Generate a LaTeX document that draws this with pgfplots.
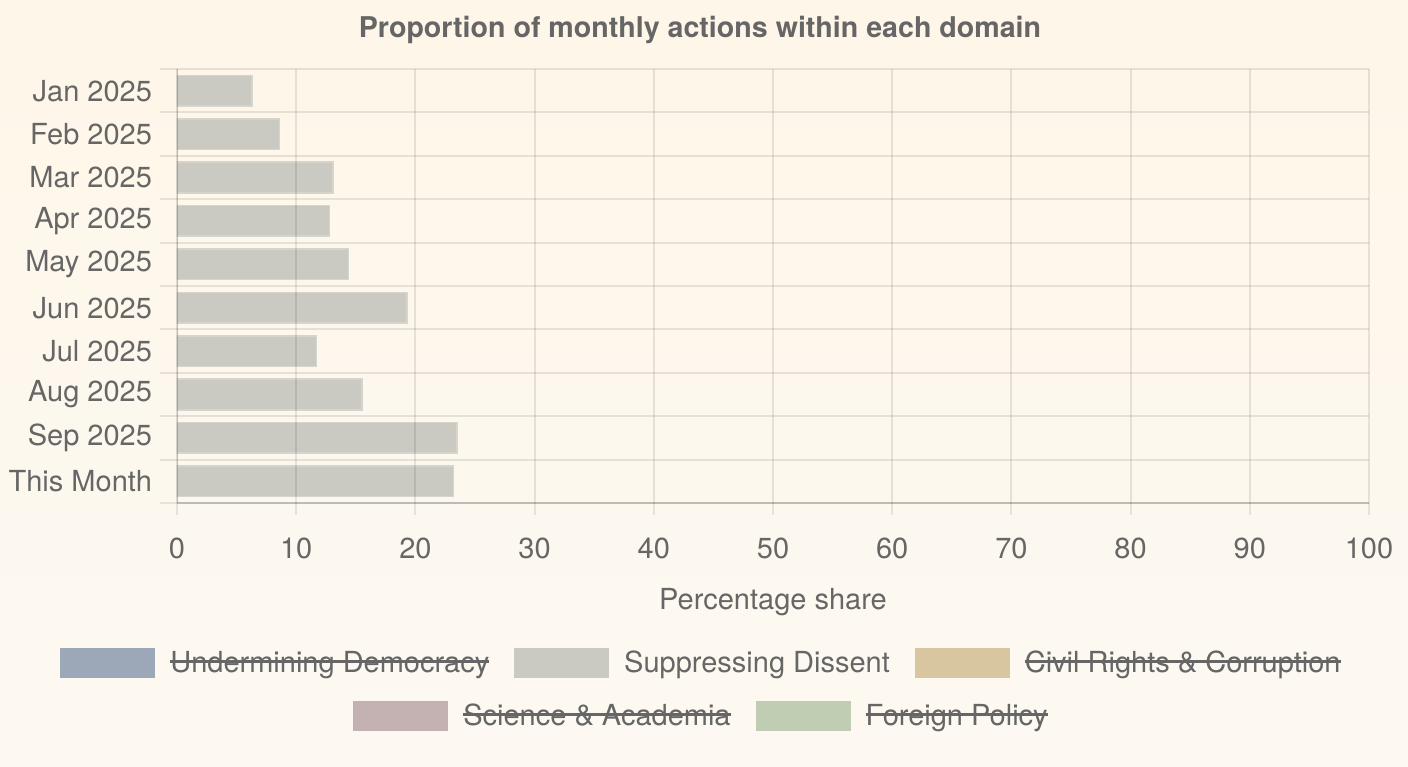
\documentclass[border=0pt]{standalone}
\usepackage{fontspec}
\setmainfont{TeX Gyre Heros}
\usepackage{pgfplots}
\usepackage{pgfplotstable}
\pgfplotsset{compat=1.18}

\definecolor{txt}{HTML}{666666}
\definecolor{bgtop}{HTML}{FEF6E8}
\definecolor{bgbot}{HTML}{FDF9F2}
\definecolor{cdem}{HTML}{9CA8B8}
\definecolor{cdis}{HTML}{CACAC2}
\definecolor{cciv}{HTML}{D8C6A0}
\definecolor{csci}{HTML}{C4B2B2}
\definecolor{cfor}{HTML}{C0CDB2}

\newsavebox\strikebox
\newcommand{\strike}[1]{\sbox\strikebox{#1}\rlap{\rule[0.32em]{\wd\strikebox}{1.3pt}}\usebox\strikebox}

% share of Suppressing Dissent per month (row 0 = Jan 2025)
\pgfplotstableread{
idx value
0 6.3
1 8.6
2 13.1
3 12.8
4 14.4
5 19.3
6 11.7
7 15.5
8 23.5
9 23.2
}\dissent

\pgfplotsset{
  swatch/.style={legend image code/.code={\fill[##1, draw=none] (0pt,-7.5pt) rectangle (47.5pt,7.5pt);}},
  legendrow/.style={
    legend style={draw=none, fill=none, font=\fontsize{14.5}{16}\selectfont\color{txt},
      anchor=center, inner sep=0pt,
      nodes={inner xsep=0pt, inner ysep=2pt},
      /tikz/every odd column/.style={column sep=7.5pt},
      /tikz/every even column/.style={column sep=12.5pt}},
  },
}

\begin{document}
\begin{tikzpicture}
\shade[top color=bgtop, bottom color=bgbot] (0,0) rectangle (704pt,383pt);
\useasboundingbox (0,0) rectangle (704pt,383pt);
\node[font=\fontsize{14.3}{16}\selectfont\bfseries, text=txt] at (350pt,368pt) {Proportion of monthly actions within each domain};

\begin{axis}[
  at={(88.5pt,131.5pt)}, anchor=south west,
  scale only axis, width=596pt, height=217pt,
  xmin=0, xmax=100, xtick={0,10,...,100},
  ymin=-0.5, ymax=9.5, y dir=reverse,
  ytick={0,...,9},
  yticklabels={Jan 2025,Feb 2025,Mar 2025,Apr 2025,May 2025,Jun 2025,Jul 2025,Aug 2025,Sep 2025,This Month},
  minor ytick={-0.5,0.5,...,9.5},
  xmajorgrids, yminorgrids,
  tick align=outside, xtick pos=bottom, ytick pos=left,
  major tick length=6pt, minor tick length=8.5pt,
  every major y tick/.append style={draw=none},
  every minor y tick/.append style={draw=black, opacity=0.09, line width=1pt},
  every major x tick/.append style={draw=black, opacity=0.09, line width=1pt},
  grid style={draw=black, opacity=0.09, line width=1pt},
  axis line style={draw=none},
  axis on top,
  /pgf/number format/assume math mode=true,
  ticklabel style={font=\fontsize{14.5}{16}\selectfont, text=txt},
  yticklabel style={xshift=-3pt},
  xticklabel style={yshift=-8pt},
  xlabel={Percentage share},
  xlabel style={font=\fontsize{14.5}{16}\selectfont, text=txt, yshift=-8pt},
  xbar, bar width=0.705, bar shift=0pt,
  legendrow, legend columns=3,
  legend style={at={(0.4392,-0.3687)}},
]
\addlegendimage{swatch, fill=cdem}
\addlegendentry{\strike{Undermining Democracy}}
\addplot[swatch, fill=cdis, draw=cdis!80!white, line width=0.8pt] table[x=value, y=idx] {\dissent};
\addlegendentry{Suppressing Dissent}
\addlegendimage{swatch, fill=cciv}
\addlegendentry{\strike{Civil Rights \& Corruption}}
\draw[black, opacity=0.17, line width=1pt] (axis cs:0,-0.5) -- (axis cs:0,9.5) -- (axis cs:100,9.5);
\end{axis}

\begin{axis}[
  at={(88.5pt,131.5pt)}, anchor=south west,
  scale only axis, width=596pt, height=217pt,
  xmin=0, xmax=100, ymin=0, ymax=1, hide axis,
  legendrow, legend columns=2,
  legend style={at={(0.4392,-0.4908)}},
]
\addlegendimage{swatch, fill=csci}
\addlegendentry{\strike{Science \& Academia}}
\addlegendimage{swatch, fill=cfor}
\addlegendentry{\strike{Foreign Policy}}
\end{axis}
\end{tikzpicture}
\end{document}
